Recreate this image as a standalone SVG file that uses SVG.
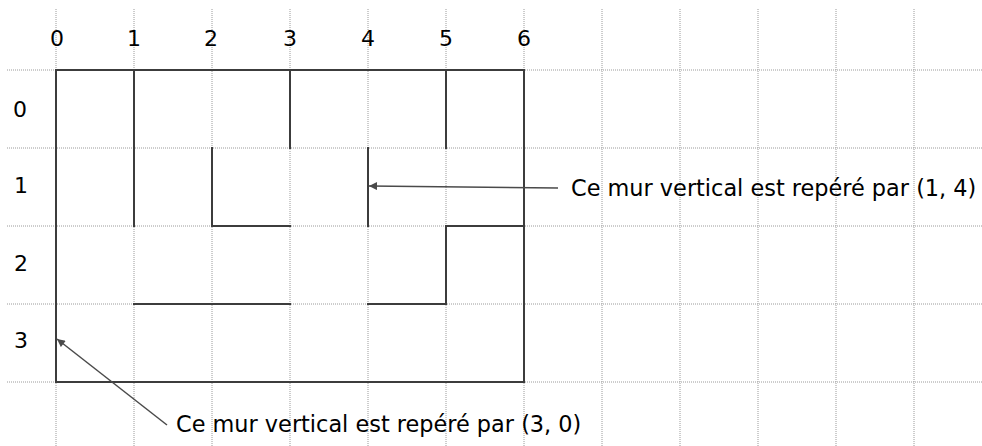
<svg xmlns="http://www.w3.org/2000/svg" width="982" height="446" viewBox="0 0 982 446">
<defs>
<style>
.grid{stroke:#9a9a9a;stroke-width:1;stroke-dasharray:1 1;fill:none}
.wall{stroke:#3c3c3c;stroke-width:2;fill:none;stroke-linecap:square}
.lbl{font-family:"DejaVu Sans",sans-serif;font-size:22px;fill:#000}
.ann{font-family:"DejaVu Sans",sans-serif;font-size:22.4px;fill:#000}
.conn{stroke:#4a4a4a;stroke-width:1.5;fill:none}
</style>
<marker id="ah" viewBox="0 0 10 10" refX="10" refY="5" markerWidth="9" markerHeight="8" markerUnits="userSpaceOnUse" orient="auto">
<path d="M0,0 L10,5 L0,10 z" fill="#4a4a4a"/>
</marker>
</defs>
<rect width="982" height="446" fill="#fff"/>
<g id="grid">
<path class="grid" d="M56,9V446M134,9V446M212,9V446M290,9V446M368,9V446M446,9V446M524,9V446M602,9V446M680,9V446M758,9V446M836,9V446M914,9V446"/>
<path class="grid" d="M7,70H982M7,148H982M7,226H982M7,304H982M7,382H982"/>
</g>
<g id="maze">
<rect class="wall" x="56" y="70" width="468" height="312"/>
<path class="wall" d="M134,70V226M290,70V148M446,70V148M212,148V226H290M368,148V226M524,226H446V304H368M134,304H290"/>
</g>
<g id="labels">
<text class="lbl" x="57" y="46" text-anchor="middle">0</text>
<text class="lbl" x="134" y="46" text-anchor="middle">1</text>
<text class="lbl" x="211" y="46" text-anchor="middle">2</text>
<text class="lbl" x="290" y="46" text-anchor="middle">3</text>
<text class="lbl" x="368" y="46" text-anchor="middle">4</text>
<text class="lbl" x="446" y="46" text-anchor="middle">5</text>
<text class="lbl" x="524" y="46" text-anchor="middle">6</text>
<text class="lbl" x="20" y="117" text-anchor="middle">0</text>
<text class="lbl" x="21" y="193" text-anchor="middle">1</text>
<text class="lbl" x="21" y="271" text-anchor="middle">2</text>
<text class="lbl" x="21" y="348" text-anchor="middle">3</text>
</g>
<g id="connectors">
<line class="conn" x1="558" y1="188" x2="369" y2="186" marker-end="url(#ah)"/>
<line class="conn" x1="167" y1="425" x2="57" y2="339" marker-end="url(#ah)"/>
</g>
<g id="annotations">
<text class="ann" x="571" y="196">Ce mur vertical est repéré par (1, 4)</text>
<text class="ann" x="176" y="432">Ce mur vertical est repéré par (3, 0)</text>
</g>
</svg>
